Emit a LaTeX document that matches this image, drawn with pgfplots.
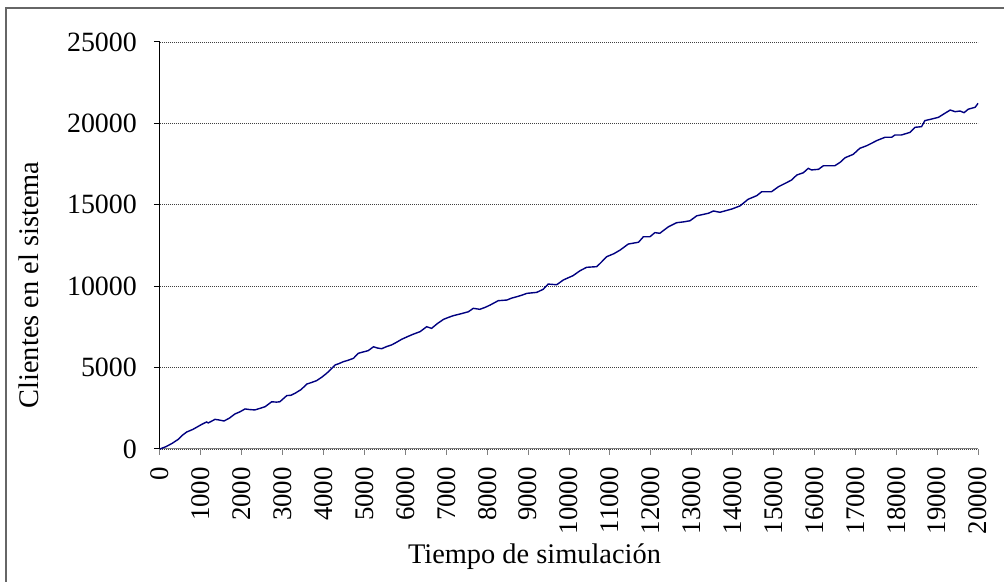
\documentclass[border=0pt]{standalone}
\usepackage{fontspec}
\setmainfont{Liberation Serif}
\usepackage{pgfplots}
\pgfplotsset{compat=1.18}
\begin{document}
\begin{tikzpicture}[x=1bp,y=1bp]
\useasboundingbox (-160,-133) rectangle (844,449);
\draw[line width=1.5bp, black!60] (-154,-133) -- (-154,441) -- (844,441);
\begin{axis}[
  scale only axis, width=818bp, height=407bp,
  at={(0,0)}, anchor=south west,
  xmin=0, xmax=20000, ymin=0, ymax=25000,
  xtick={0,1000,...,20000}, ytick={0,5000,...,25000},
  axis lines*=left,
  x axis line style={black!50, line width=1bp},
  y axis line style={black, line width=1bp},
  xtick style={black!50, line width=1bp},
  ytick style={black, line width=1bp},
  tick align=outside, major tick length=6bp,
  ymajorgrids,
  major grid style={black!75, line width=0.8bp, dash pattern=on 1bp off 1bp},
  scaled ticks=false,
  /pgf/number format/1000 sep={},
  /pgf/number format/assume math mode=true,
  tick label style={inner sep=0pt},
  yticklabel shift=17bp,
  xticklabel shift=12bp,
  xticklabel style={rotate=90, anchor=east, font=\fontsize{27}{32}\selectfont},
  yticklabel style={anchor=east, font=\fontsize{28}{33}\selectfont},
  xlabel={Tiempo de simulación},
  ylabel={Clientes en el sistema},
  every axis x label/.style={at={(axis description cs:0.4578,-0.2801)}, anchor=base, font=\fontsize{28.5}{34}\selectfont, inner sep=0pt},
  every axis y label/.style={at={(axis description cs:-0.1491,0.403)}, anchor=base, rotate=90, font=\fontsize{28.5}{34}\selectfont, inner sep=0pt},
  clip=false,
]
\addplot[color={rgb,255:red,0;green,0;blue,128}, line width=1.4bp] table {
x y
0 0
150 150
300 350
450 600
550 850
650 1040
800 1200
1020 1510
1140 1660
1180 1600
1345 1820
1450 1780
1565 1720
1700 1900
1830 2150
1950 2280
2080 2460
2200 2420
2320 2400
2450 2500
2570 2600
2730 2900
2850 2880
2930 2900
3100 3280
3200 3300
3300 3420
3450 3650
3590 3990
3700 4080
3830 4200
3950 4400
4075 4650
4180 4900
4280 5160
4380 5250
4480 5360
4600 5450
4730 5570
4850 5880
4950 5950
5090 6040
5220 6280
5320 6200
5420 6160
5550 6300
5660 6390
5780 6550
5910 6740
6050 6900
6190 7050
6360 7210
6520 7510
6640 7410
6780 7700
6930 7960
7050 8080
7170 8190
7350 8300
7540 8430
7660 8640
7820 8580
7950 8700
8070 8840
8270 9110
8480 9150
8600 9270
8720 9350
8850 9450
8970 9560
9210 9620
9370 9810
9490 10130
9700 10090
9860 10380
10100 10650
10270 10950
10430 11160
10680 11200
10800 11500
10920 11810
11100 12000
11250 12220
11450 12590
11700 12700
11820 13040
11980 13040
12100 13290
12220 13250
12430 13650
12630 13900
12800 13950
12960 14020
13120 14320
13410 14480
13530 14620
13690 14540
13980 14740
14180 14930
14380 15340
14590 15560
14710 15800
14950 15800
15120 16110
15320 16360
15440 16520
15570 16830
15730 16970
15850 17240
15930 17140
16100 17180
16220 17400
16500 17400
16630 17610
16750 17890
16950 18100
17110 18470
17280 18630
17400 18780
17520 18940
17730 19150
17890 19150
17970 19290
18130 19290
18340 19450
18460 19760
18620 19800
18700 20170
18870 20270
19030 20370
19190 20620
19320 20820
19440 20720
19560 20760
19660 20660
19760 20870
19930 20990
20000 21230
};
\end{axis}
\end{tikzpicture}
\end{document}
